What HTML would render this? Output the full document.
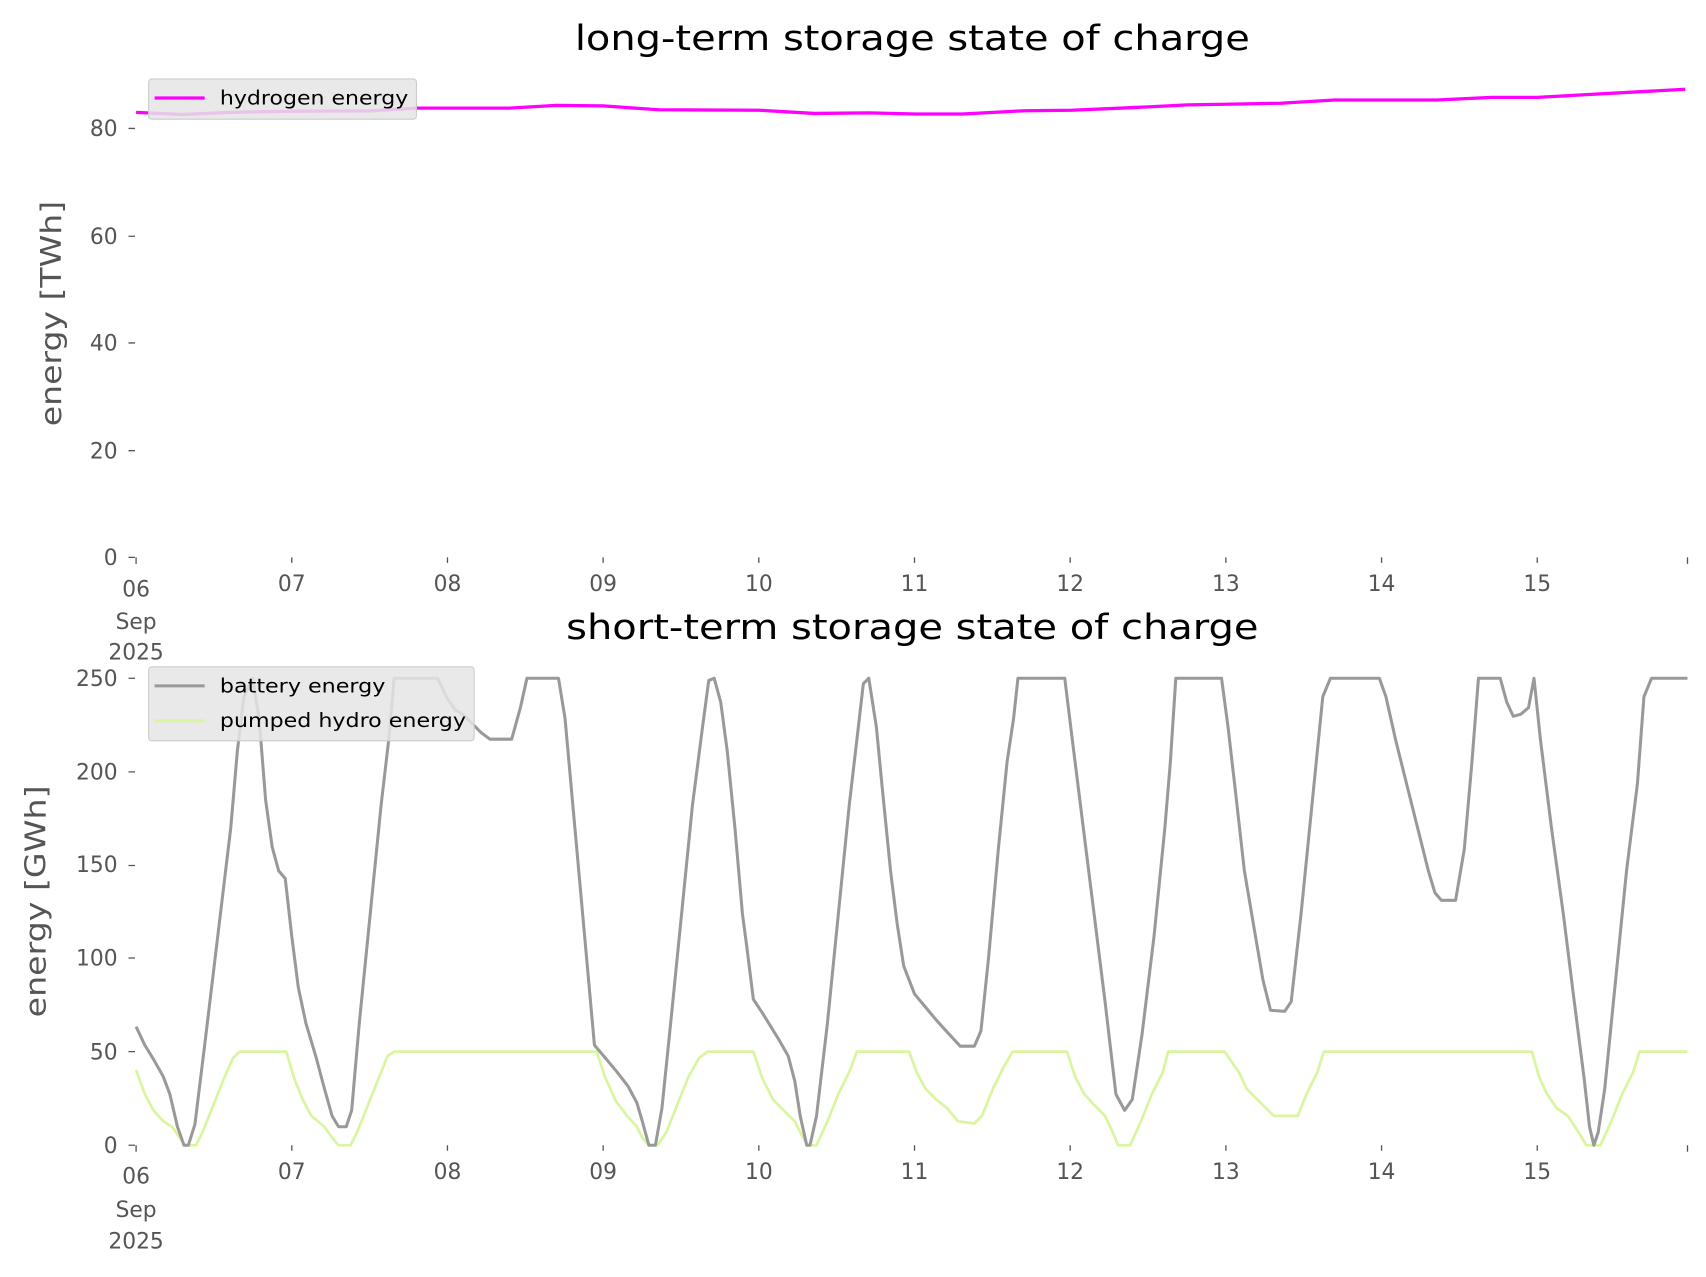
<!DOCTYPE html>
<html><head><meta charset="utf-8"><style>html,body{margin:0;padding:0;background:#fff}svg{display:block}</style></head>
<body>
<svg width="1706" height="1277" viewBox="0 0 1567 1173" preserveAspectRatio="none" xmlns="http://www.w3.org/2000/svg" font-family="'DejaVu Sans','Liberation Sans',sans-serif">
<rect width="1567" height="1173" fill="#fff"/>
<text x="838" y="46" font-size="32" text-anchor="middle" textLength="620" lengthAdjust="spacingAndGlyphs" fill="#000">long-term storage state of charge</text>
<text x="838" y="587" font-size="32" text-anchor="middle" textLength="636" lengthAdjust="spacingAndGlyphs" fill="#000">short-term storage state of charge</text>
<text transform="translate(56,288) rotate(-90)" font-size="26" text-anchor="middle" textLength="207" lengthAdjust="spacingAndGlyphs" fill="#555">energy [TWh]</text>
<text transform="translate(42,828) rotate(-90)" font-size="26" text-anchor="middle" textLength="213" lengthAdjust="spacingAndGlyphs" fill="#555">energy [GWh]</text>
<g font-size="20" fill="#555" text-anchor="end">
<text x="108" y="519">0</text><text x="108" y="421">20</text><text x="108" y="322">40</text><text x="108" y="224">60</text><text x="108" y="125">80</text>
<text x="108" y="1059">0</text><text x="108" y="973">50</text><text x="108" y="887">100</text><text x="108" y="801">150</text><text x="108" y="716">200</text><text x="108" y="630">250</text>
</g>
<g stroke="#555" stroke-width="1.2">
<path d="M118 512H124M118 414H124M118 315H124M118 217H124M118 118H124"/>
<path d="M118 1052H124M118 966H124M118 880H124M118 795H124M118 709H124M118 623H124"/>
<path d="M125 512v6M268 512v5M411 512v5M554 512v5M697 512v5M840 512v5M983 512v5M1126 512v5M1269 512v5M1412 512v5M1550 512v6"/>
<path d="M125 1052v6M268 1052v5M411 1052v5M554 1052v5M697 1052v5M840 1052v5M983 1052v5M1126 1052v5M1269 1052v5M1412 1052v5M1550 1052v6"/>
</g>
<g font-size="20" fill="#555" text-anchor="middle">
<text x="125" y="548">06</text><text x="125" y="578">Sep</text><text x="125" y="606">2025</text>
<text x="268" y="543">07</text><text x="411" y="543">08</text><text x="554" y="543">09</text><text x="697" y="543">10</text><text x="840" y="543">11</text><text x="983" y="543">12</text><text x="1126" y="543">13</text><text x="1269" y="543">14</text><text x="1412" y="543">15</text>
<text x="125" y="1087">06</text><text x="125" y="1118">Sep</text><text x="125" y="1147">2025</text>
<text x="268" y="1083">07</text><text x="411" y="1083">08</text><text x="554" y="1083">09</text><text x="697" y="1083">10</text><text x="840" y="1083">11</text><text x="983" y="1083">12</text><text x="1126" y="1083">13</text><text x="1269" y="1083">14</text><text x="1412" y="1083">15</text>
</g>
<polyline fill="none" stroke="#ff00ff" stroke-width="3" stroke-linejoin="round" points="125,103.2 168,105.2 211,103.2 268,102.2 340,101.8 383,99.3 468,99.3 511,96.8 554,97.3 605,100.8 698,101.3 748,104.2 798,103.7 841,104.7 884,104.7 941,101.7 984,101.3 1041,98.8 1091,96.3 1126,95.8 1176,94.8 1226,91.9 1320,91.9 1370,89.4 1412,89.4 1455,87 1548,82"/>
<polyline fill="none" stroke="#d9f5a0" stroke-width="2.5" stroke-linejoin="round" points="125,983 133,1005 141,1020 150,1030 158,1035 165,1045 170,1052 180,1052 186,1040 196,1015 206,990 214,972 220,966 263,966 270,990 278,1010 286,1025 298,1035 305,1045 311,1052 322,1052 328,1040 338,1015 348,990 356,970 362,966 548,966 556,990 566,1012 576,1025 585,1035 590,1045 596,1052 604,1052 612,1040 622,1015 632,990 642,972 650,966 692,966 700,990 710,1010 720,1020 730,1030 736,1042 742,1052 750,1052 760,1030 770,1005 780,985 787,966 835,966 842,985 850,1000 860,1010 870,1018 880,1030 895,1032 902,1025 912,1000 922,980 930,966 980,966 988,990 996,1005 1005,1015 1015,1025 1022,1040 1027,1052 1038,1052 1048,1030 1058,1005 1068,985 1073,966 1125,966 1131,975 1138,985 1145,1000 1155,1010 1170,1025 1192,1025 1200,1005 1210,985 1216,966 1407,966 1414,990 1421,1005 1430,1018 1440,1025 1450,1040 1457,1052 1470,1052 1480,1030 1490,1005 1500,985 1506,966 1550,966"/>
<polyline fill="none" stroke="#999" stroke-width="2.8" stroke-linejoin="round" points="125,943 133,960 141,973 150,989 156,1005 163,1035 169,1052 173,1052 179,1033 188,960 200,860 212,760 218,690 224,640 232,623 238,660 244,735 250,778 256,800 262,807 268,860 274,907 281,940 290,970 298,1000 305,1025 311,1035 318,1035 323,1020 330,940 340,840 350,740 357,680 362,623 402,623 410,640 418,652 426,657 434,665 442,673 450,679 470,679 478,650 484,623 513,623 519,660 528,760 537,860 546,960 557,973 567,985 577,998 585,1013 590,1030 596,1052 602,1052 608,1018 616,940 626,840 636,740 645,670 651,625 656,623 662,645 668,690 675,760 682,840 686,870 692,918 700,930 708,943 716,956 724,970 730,993 735,1025 741,1052 744,1052 750,1025 760,940 770,840 780,740 787,680 793,628 798,623 805,668 810,720 818,800 824,848 830,887 840,913 850,925 860,937 870,948 882,961 895,961 901,947 908,880 917,780 925,700 931,660 935,623 978,623 985,680 995,760 1005,840 1015,920 1025,1005 1033,1020 1040,1010 1049,950 1060,860 1070,760 1075,700 1080,623 1122,623 1128,668 1134,720 1143,800 1152,853 1160,900 1167,928 1180,929 1186,920 1195,840 1205,740 1215,640 1222,623 1267,623 1273,640 1282,680 1292,720 1302,760 1312,800 1318,820 1324,827 1337,827 1345,780 1352,700 1358,623 1378,623 1384,645 1390,658 1397,656 1404,650 1409,623 1415,680 1425,760 1436,840 1446,920 1455,990 1460,1035 1464,1052 1468,1040 1474,1000 1484,900 1494,800 1504,720 1510,640 1517,623 1550,623"/>
<rect x="136.5" y="72.5" width="246" height="37" rx="3" fill="#e5e5e5" fill-opacity="0.85" stroke="#ccc" stroke-width="1"/>
<line x1="142" y1="90" x2="188" y2="90" stroke="#ff00ff" stroke-width="3"/>
<text x="202" y="96" font-size="18" fill="#000" textLength="173" lengthAdjust="spacingAndGlyphs">hydrogen energy</text>
<rect x="136.5" y="612.5" width="299" height="68" rx="3" fill="#e5e5e5" fill-opacity="0.85" stroke="#ccc" stroke-width="1"/>
<line x1="142" y1="630" x2="188" y2="630" stroke="#999" stroke-width="2.8"/>
<text x="202" y="636" font-size="18" fill="#000" textLength="152" lengthAdjust="spacingAndGlyphs">battery energy</text>
<line x1="142" y1="662" x2="188" y2="662" stroke="#d9f5a0" stroke-width="2.8"/>
<text x="202" y="668" font-size="18" fill="#000" textLength="226" lengthAdjust="spacingAndGlyphs">pumped hydro energy</text>
</svg>
</body></html>
